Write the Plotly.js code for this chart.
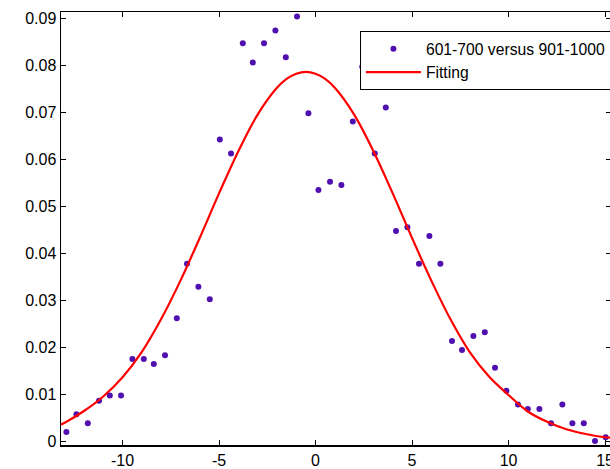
<!DOCTYPE html>
<html>
<head>
<meta charset="utf-8">
<script src="https://cdn.plot.ly/plotly-3.0.1.min.js"></script>
<style>
html, body { margin: 0; padding: 0; overflow: hidden; background: #fff; }
#chart { width: 650px; height: 469px; }
</style>
</head>
<body>
<div id="chart"></div>
<script>
// Scatter data
const pointX = [-12.91, -12.39, -11.80, -11.22, -10.66, -10.08, -9.49, -8.90, -8.38, -7.80,
                -7.19, -6.66, -6.07, -5.48, -4.96, -4.38, -3.77, -3.25, -2.67, -2.08,
                -1.54, -0.96, -0.37, 0.15, 0.75, 1.34, 1.93, 2.42, 3.07, 3.64,
                4.17, 4.76, 5.36, 5.90, 6.47, 7.07, 7.59, 8.18, 8.77, 9.30,
                9.89, 10.49, 11.00, 11.60, 12.20, 12.79, 13.31, 13.90, 14.48, 15.03];
const pointY = [0.0019, 0.0057, 0.0038, 0.0086, 0.0097, 0.0097, 0.0175, 0.0175, 0.0164, 0.0183,
                0.0262, 0.0378, 0.0329, 0.0302, 0.0643, 0.0613, 0.0848, 0.0807, 0.0848, 0.0875,
                0.0818, 0.0905, 0.0699, 0.0535, 0.0553, 0.0546, 0.0681, 0.0798, 0.0613, 0.0711,
                0.0448, 0.0456, 0.0378, 0.0437, 0.0378, 0.0213, 0.0194, 0.0224, 0.0232, 0.0156,
                0.0107, 0.0078, 0.0068, 0.0068, 0.0038, 0.0078, 0.0038, 0.0038, 0.0000, 0.0008];

// Fitted curve
const fitX = [-13.2, -13, -12, -11, -10, -9, -8, -7, -6, -5, -4, -3, -2, -1.5, -1, -0.5, 0, 0.5,
              1, 2, 3, 4, 5, 6, 7, 8, 9, 10, 11, 12, 13, 14, 15, 15.3];
const fitY = [0.0035, 0.0039, 0.0064, 0.0095, 0.0136, 0.0190, 0.0260, 0.0342, 0.0433, 0.0528,
              0.0618, 0.0696, 0.0753, 0.0772, 0.0783, 0.0787, 0.0783, 0.0772,
              0.0753, 0.0696, 0.0618, 0.0528, 0.0433, 0.0342, 0.0259, 0.0189, 0.0137, 0.0098,
              0.0063, 0.0041, 0.0025, 0.0015, 0.0008, 0.0007];

const seriesNames = ['601-700 versus 901-1000\u00a0\u00a0\u00a0', 'Fitting'];
const xTicks = [-10, -5, 0, 5, 10, 15];
const xTickText = ['-10', '-5', '0', '5', '10', '15'];
const yTicks = [0, 0.01, 0.02, 0.03, 0.04, 0.05, 0.06, 0.07, 0.08, 0.09];
const yTickText = ['0', '0.01', '0.02', '0.03', '0.04', '0.05', '0.06', '0.07', '0.08', '0.09'];

const FONT = 'Liberation Sans, Arial, Helvetica, sans-serif';

const traces = [
  {
    x: pointX, y: pointY, type: 'scatter', mode: 'markers', name: seriesNames[0],
    marker: { color: '#5010b0', size: 6 },
    legendgroup: 'a'
  },
  {
    x: fitX, y: fitY, type: 'scatter', mode: 'lines', name: seriesNames[1],
    line: { color: '#ff0000', width: 2.2, shape: 'spline' },
    legendgroup: 'b'
  }
];

const axisCommon = {
  showgrid: false, zeroline: false, showline: true, linecolor: '#000', linewidth: 1.5,
  mirror: 'allticks', ticks: 'inside', ticklen: 5, tickwidth: 1, tickcolor: '#000',
  ticklabeloverflow: 'allow',
  tickfont: { family: FONT, size: 16, color: '#000' }
};

const layout = {
  width: 650, height: 469,
  margin: { l: 61, r: 39, t: 12, b: 24 },
  paper_bgcolor: '#fff', plot_bgcolor: '#fff',
  showlegend: true,
  legend: {
    x: 0.5435, y: 0.956, xanchor: 'left', yanchor: 'top',
    bgcolor: '#fff', bordercolor: '#000', borderwidth: 1,
    font: { family: FONT, size: 15.7, color: '#000' },
    tracegroupgap: 0, itemwidth: 55
  },
  xaxis: Object.assign({}, axisCommon, {
    range: [-13.19, 15.31], tickmode: 'array', tickvals: xTicks, ticktext: xTickText
  }),
  yaxis: Object.assign({}, axisCommon, {
    range: [-0.00085, 0.09147], tickmode: 'array', tickvals: yTicks, ticktext: yTickText
  })
};

Plotly.newPlot('chart', traces, layout, { displayModeBar: false, staticPlot: true });
</script>
</body>
</html>
